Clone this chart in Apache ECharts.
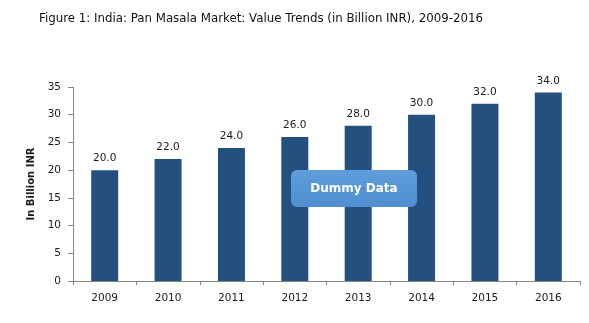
<!DOCTYPE html>
<html><head><meta charset="utf-8">
<script src="https://cdn.jsdelivr.net/npm/echarts@6/dist/echarts.min.js"></script>
<style>html,body{margin:0;padding:0;background:#fff}#c{width:589px;height:323px}</style>
</head><body><div id="c"></div>
<script>
var categories = ['2009','2010','2011','2012','2013','2014','2015','2016'];
var values = [20.0, 22.0, 24.0, 26.0, 28.0, 30.0, 32.0, 34.0];
var yTicks = [0, 5, 10, 15, 20, 25, 30, 35];
var titleText = 'Figure 1: India: Pan Masala Market: Value Trends (in Billion INR), 2009-2016';
var yName = 'In Billion INR';
var watermark = 'Dummy Data';

var chart = echarts.init(document.getElementById('c'), null, {renderer: 'canvas'});
var font = 'DejaVu Sans';
chart.setOption({
  animation: false,
  backgroundColor: '#ffffff',
  title: {
    text: titleText, left: 39, top: 13, padding: 0,
    textStyle: {fontFamily: font, fontSize: 11.8, fontWeight: 'normal', color: '#111111'}
  },
  grid: {left: 73, right: 9, top: 87, bottom: 42, containLabel: false},
  xAxis: {
    type: 'category', data: categories, boundaryGap: true,
    axisLine: {lineStyle: {color: '#868686', width: 1}},
    axisTick: {show: true, length: 4, lineStyle: {color: '#868686'}},
    axisLabel: {fontFamily: font, fontSize: 10.5, color: '#1a1a1a', margin: 12}
  },
  yAxis: {
    type: 'value', min: yTicks[0], max: yTicks[yTicks.length-1], interval: yTicks[1]-yTicks[0],
    name: yName, nameLocation: 'middle', nameGap: 36, nameRotate: 90,
    nameTextStyle: {fontFamily: font, fontSize: 10, fontWeight: 'bold', color: '#1a1a1a'},
    axisLine: {show: true, lineStyle: {color: '#868686', width: 1}},
    axisTick: {show: true, length: 5, lineStyle: {color: '#868686'}},
    splitLine: {show: false},
    axisLabel: {fontFamily: font, fontSize: 10.5, color: '#1a1a1a', margin: 12}
  },
  series: [{
    type: 'bar', data: values, barWidth: 27,
    itemStyle: {color: '#23507f'},
    label: {show: true, position: 'top', distance: 6, fontFamily: font, fontSize: 10.5, color: '#1a1a1a',
      formatter: function(p){ return p.value.toFixed(1); }}
  }],
  graphic: [{
    type: 'group', left: 291, top: 170, z: 100,
    children: [{
      type: 'rect', z: 100, shape: {x: 0, y: 0, width: 126, height: 37, r: 6},
      style: {fill: new echarts.graphic.LinearGradient(0,0,0,1,[{offset:0,color:'#5f9ddb'},{offset:1,color:'#4f8fd0'}]), stroke: 'none'}
    }, {
      type: 'text', z: 101, x: 63, y: 18.5,
      style: {text: watermark, fill: '#ffffff', font: 'bold 12px "DejaVu Sans"', align: 'center', verticalAlign: 'middle'}
    }]
  }]
});
</script></body></html>
